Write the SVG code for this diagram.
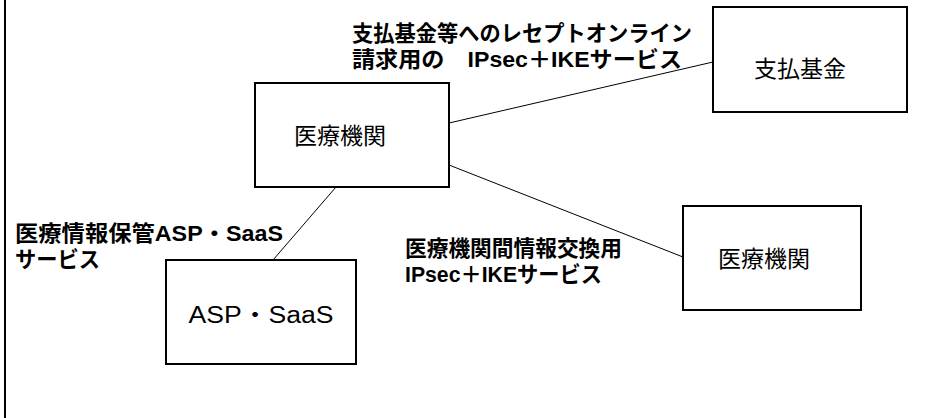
<svg xmlns="http://www.w3.org/2000/svg" width="952" height="418" viewBox="0 0 952 418">
<style>
.box{fill:#fff;stroke:#000;stroke-width:2}
.lbl{font-family:"Liberation Sans","Noto Sans CJK JP",sans-serif;font-size:23px;fill:#000;text-anchor:middle}
.cap{font-family:"Liberation Sans","Noto Sans CJK JP",sans-serif;font-size:22px;font-weight:bold;fill:#000}
.con{stroke:#000;stroke-width:1;fill:none}
</style>
<rect width="952" height="418" fill="#fff"/>
<line x1="5" y1="0" x2="5" y2="418" stroke="#000" stroke-width="2"/>
<g id="connectors">
<line class="con" x1="449" y1="123" x2="713" y2="62"/>
<line class="con" x1="449" y1="165" x2="683" y2="257"/>
<line class="con" x1="336" y1="187" x2="273" y2="260"/>
</g>
<g id="iryo1">
<rect class="box" x="255" y="83" width="194" height="104"/>
<text class="lbl" x="340" y="144">医療機関</text>
</g>
<g id="shiharai">
<rect class="box" x="713" y="7" width="194" height="105"/>
<text class="lbl" x="800" y="77">支払基金</text>
</g>
<g id="iryo2">
<rect class="box" x="683" y="206" width="178" height="104"/>
<text class="lbl" x="764" y="267">医療機関</text>
</g>
<g id="asp">
<rect class="box" x="166" y="260" width="190" height="104"/>
<text class="lbl" x="261" y="323" font-size="21" textLength="145" lengthAdjust="spacingAndGlyphs">ASP・SaaS</text>
</g>
<g id="labels">
<text class="cap" x="352" y="41" textLength="340" lengthAdjust="spacingAndGlyphs">支払基金等へのレセプトオンライン</text>
<text class="cap" x="352" y="67" textLength="330" lengthAdjust="spacingAndGlyphs">請求用の　IPsec＋IKEサービス</text>
<text class="cap" x="15" y="241" textLength="268" lengthAdjust="spacingAndGlyphs">医療情報保管ASP・SaaS</text>
<text class="cap" x="15" y="267" textLength="85" lengthAdjust="spacingAndGlyphs">サービス</text>
<text class="cap" x="405" y="256" textLength="217" lengthAdjust="spacingAndGlyphs">医療機関間情報交換用</text>
<text class="cap" x="405" y="282" textLength="197" lengthAdjust="spacingAndGlyphs">IPsec＋IKEサービス</text>
</g>
</svg>
